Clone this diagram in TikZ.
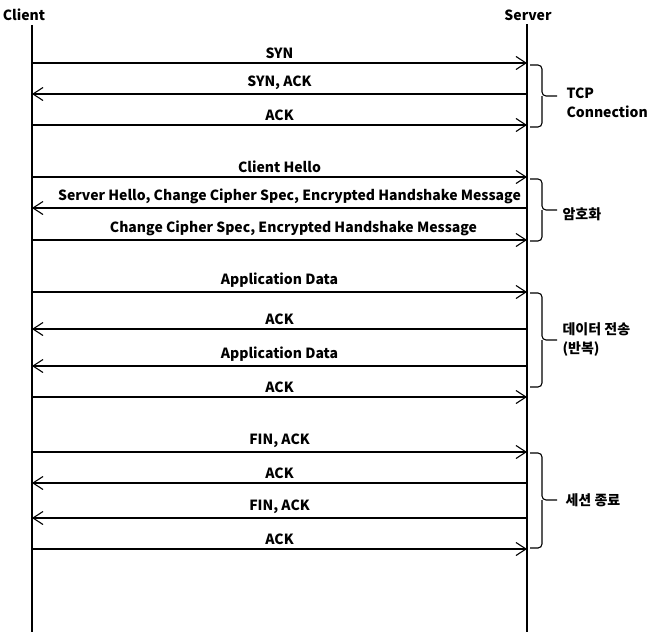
\documentclass[tikz,border=0pt]{standalone}
\usepackage{fontspec}
\setmainfont{Noto Sans CJK KR}
\usetikzlibrary{arrows.meta}

\begin{document}
\begin{tikzpicture}[x=1pt, y=-1pt, line width=1.1pt, >={Straight Barb[length=10pt,width=13pt]},
    msg/.style={above=4pt, inner sep=0pt, font=\fontsize{14}{16}\selectfont\bfseries},
    grp/.style={line width=1.1pt, rounded corners=4pt},
    lbl/.style={anchor=west, align=left, inner sep=0pt, font=\fontsize{14}{19}\selectfont\bfseries}]
    \useasboundingbox (0,0) rectangle (651,632);

    % lifelines
    \node[font=\fontsize{14}{16}\selectfont\bfseries] (client) at (24,15) {Client};
    \node[font=\fontsize{14}{16}\selectfont\bfseries] (server) at (528,15) {Server};
    \coordinate (cend) at (32,632);
    \coordinate (send) at (527,632);
    \draw (client.south -| cend) -- (cend);
    \draw (server.south -| send) -- (send);

    \foreach \i/\y in {1/63,2/94,3/125,4/177,5/208,6/240,7/292,8/329,9/366,10/397,11/452,12/483,13/518,14/549} {
        \coordinate (c\i) at (32,\y);
        \coordinate (s\i) at (527,\y);
    }

    % TCP connection
    \draw[->] (c1) -- node[msg] (m1) {SYN} (s1);
    \draw[->] (s2) -- node[msg] (m2) {SYN, ACK} (c2);
    \draw[->] (c3) -- node[msg] (m3) {ACK} (s3);

    % handshake
    \draw[->] (c4) -- node[msg] (m4) {Client Hello} (s4);
    \draw[->] (s5) -- node[msg, xshift=10pt] (m5) {Server Hello, Change Cipher Spec, Encrypted Handshake Message} (c5);
    \draw[->] (c6) -- node[msg, xshift=14pt] (m6) {Change Cipher Spec, Encrypted Handshake Message} (s6);

    % data
    \draw[->] (c7) -- node[msg] (m7) {Application Data} (s7);
    \draw[->] (s8) -- node[msg] (m8) {ACK} (c8);
    \draw[->] (s9) -- node[msg] (m9) {Application Data} (c9);
    \draw[->] (c10) -- node[msg] (m10) {ACK} (s10);

    % close
    \draw[->] (c11) -- node[msg] (m11) {FIN, ACK} (s11);
    \draw[->] (s12) -- node[msg] (m12) {ACK} (c12);
    \draw[->] (s13) -- node[msg] (m13) {FIN, ACK} (c13);
    \draw[->] (c14) -- node[msg] (m14) {ACK} (s14);

    % braces
    \draw[grp] (530,65) -- (542,65) |- (557,96);
    \draw[grp] (542,96) |- (530,127);
    \node[lbl] (tcp) at (566,103) {TCP\\Connection};

    \draw[grp] (530,179) -- (542,179) |- (557,210);
    \draw[grp] (542,210) |- (530,241);
    \node[lbl] (crypto) at (562,214) {암호화};

    \draw[grp] (530,293) -- (542,293) |- (557,340);
    \draw[grp] (542,340) |- (530,387);
    \node[lbl] (data) at (562,340) {데이터 전송\\(반복)};

    \draw[grp] (530,453) -- (542,453) |- (557,500);
    \draw[grp] (542,500) |- (530,548);
    \node[lbl] (close) at (565,500) {세션 종료};
\end{tikzpicture}
\end{document}
